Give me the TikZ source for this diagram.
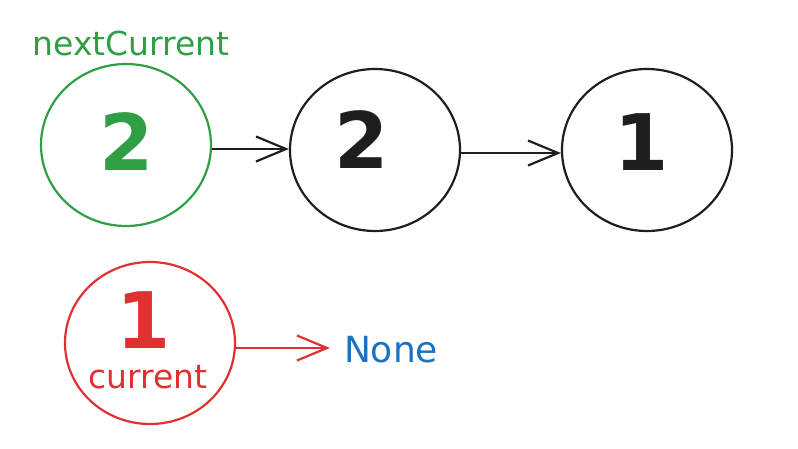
\documentclass[tikz,border=0pt]{standalone}
\usepackage{fontspec}
\setmainfont{DejaVu Sans}
\usetikzlibrary{arrows.meta,shapes.geometric}
\definecolor{cgreen}{HTML}{2F9E44}
\definecolor{cblack}{HTML}{1E1E1E}
\definecolor{cred}{HTML}{E03131}
\definecolor{cblue}{HTML}{1971C2}
\tikzset{
  bubble/.style={draw, ellipse, line width=2.2pt, minimum width=170pt, minimum height=162pt, inner sep=0pt},
  digit/.style={font=\fontsize{78}{88}\selectfont\bfseries, inner sep=0pt},
  lbl/.style={font=\fontsize{33}{38}\selectfont, inner sep=0pt},
  link/.style={line width=2.2pt, -{Straight Barb[length=30pt,width=25pt,line width=2.2pt]}}
}
\begin{document}
\begin{tikzpicture}[x=1pt,y=-1pt]
\useasboundingbox (0,0) rectangle (798,448);
\node[bubble, cgreen] (g) at (126,145) {};
\node[bubble, cblack] (b2) at (375,150) {};
\node[bubble, cblack] (b1) at (647,150) {};
\node[bubble, cred] (r) at (150,343) {};
\node[digit, text=cgreen] (gd) at (127,142) {2};
\node[digit, text=cblack] (b2d) at (362,140) {2};
\node[digit, text=cblack] (b1d) at (642,142) {1};
\node[digit, text=cred] (rd) at (144,320) {1};
\node[lbl, text=cgreen] (nc) at (131,43) {nextCurrent};
\node[lbl, text=cred] (cur) at (148,377) {current};
\node[lbl, text=cblue, font=\fontsize{36}{40}\selectfont] (none) at (391,350) {None};
\coordinate (a1) at ([yshift=-4pt]g.east);
\draw[link, cblack] (a1) -- (a1 -| b2.west);
\coordinate (a2) at ([yshift=-3pt]b2.east);
\draw[link, cblack] (a2) -- (a2 -| b1.west);
\coordinate (a3) at ([yshift=-5pt]r.east);
\draw[link, cred] (a3) -- ([xshift=-14pt]a3 -| none.west);
\end{tikzpicture}
\end{document}
